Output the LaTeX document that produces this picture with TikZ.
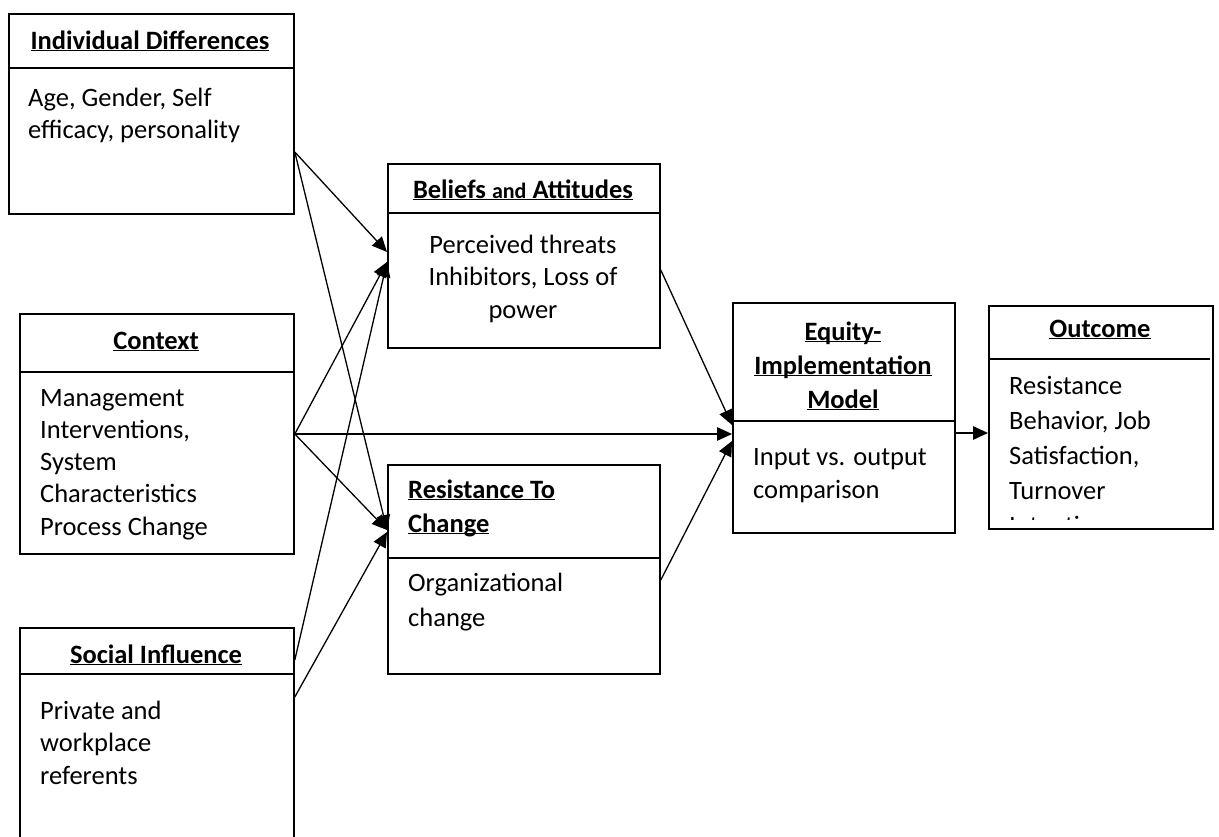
\documentclass[tikz,border=0pt]{standalone}
\usepackage{fontspec}
\setmainfont{Carlito}
\usetikzlibrary{arrows.meta,calc}
\newcommand\ul[1]{\underline{\raisebox{0pt}[\height][0pt]{#1}}}
\begin{document}
\begin{tikzpicture}[x=1pt,y=-1pt,
  box/.style={draw,line width=1.8pt,anchor=north west,inner sep=0pt},
  sep/.style={line width=1.8pt},
  conn/.style={line width=1.3pt,-{Triangle[length=15pt,width=13.5pt]}},
  txt/.style={anchor=base west,inner sep=0pt,align=left,font=\fontsize{26.5}{33}\selectfont},
  txtc/.style={anchor=base,inner sep=0pt,align=center,font=\fontsize{26.5}{32.5}\selectfont},
  ttl/.style={anchor=base,inner sep=0pt,align=center,font=\fontsize{26.5}{34}\selectfont\bfseries},
  ttll/.style={anchor=base west,inner sep=0pt,align=left,font=\fontsize{26.5}{34}\selectfont\bfseries}
]
\useasboundingbox (0,0) rectangle (1219,836);

% boxes
\node[box,minimum width=285pt,minimum height=200pt] (id) at (8,13) {};
\node[box,minimum width=274pt,minimum height=240pt] (ctx) at (19,313) {};
\node[box,minimum width=274pt,minimum height=240pt] (soc) at (19,627) {};
\node[box,minimum width=272pt,minimum height=184pt] (bel) at (387,163) {};
\node[box,minimum width=272pt,minimum height=209pt] (res) at (387,464) {};
\node[box,minimum width=222pt,minimum height=230pt] (eq) at (732,302) {};
\node[box,minimum width=224pt,minimum height=223pt] (out) at (988,305) {};

% separators
\draw[sep] (id.west |- 0,68) -- (id.east |- 0,68);
\draw[sep] (ctx.west |- 0,372) -- (ctx.east |- 0,372);
\draw[sep] (soc.west |- 0,674) -- (soc.east |- 0,674);
\draw[sep] (bel.west |- 0,213) -- (bel.east |- 0,213);
\draw[sep] (res.west |- 0,558) -- (res.east |- 0,558);
\draw[sep] (eq.west |- 0,421) -- (eq.east |- 0,421);
\draw[sep] (out.west |- 0,359) -- ($(out.east |- 0,359)+(-4,0)$);

% titles (anchor = baseline of the last line)
\node[ttl] (idT) at (150,49) {\ul{Individual Differences}};
\node[ttl] (ctxT) at (156,349) {\ul{Context}};
\node[ttl] (socT) at (156,663) {\ul{Social Influence}};
\node[ttl] (belT) at (523,198) {\ul{Beliefs {\fontsize{22}{34}\selectfont and} Attitudes}};
\node[ttll] (resT) at (408,532) {\ul{Resistance To}\\\ul{Change}};
\node[ttl] (eqT) at (843,408) {\ul{Equity-}\\\ul{Implementation}\\\ul{Model}};
\node[ttl] (outT) at (1100,337) {\ul{Outcome}};

% bodies
\node[txt,font=\fontsize{26.5}{32.5}\selectfont] (idB) at (28,138.5) {Age, Gender, Self\\efficacy, personality};
\node[txt,font=\fontsize{26.5}{32.25}\selectfont] (ctxB) at (40,535) {Management\\Interventions,\\System\\Characteristics\\Process Change};
\node[txt,font=\fontsize{26.5}{32.5}\selectfont] (socB) at (40,784) {Private and\\workplace\\referents};
\node[txtc] (belB) at (523,318) {Perceived threats\\Inhibitors, Loss of\\power};
\node[txt,font=\fontsize{26.5}{35}\selectfont] (resB) at (408,626) {Organizational\\change};
\node[txt] (eqB) at (753,498) {Input vs. output\\comparison};
\node[txt,font=\fontsize{26.5}{34.7}\selectfont] (outB) at (1009,499) {Resistance\\Behavior, Job\\Satisfaction,\\Turnover};
\begin{scope}
\clip (990,307) rectangle (1210,519);
\node[txt] (outC) at (1009,534) {Intention};
\end{scope}

% connectors
\draw[conn] (id.east |- 0,152) -- (bel.west |- 0,252);
\draw[conn] (id.east |- 0,152) -- (res.west |- 0,530);
\draw[conn] (ctx.east |- 0,434) -- (bel.west |- 0,262);
\draw[conn] (ctx.east |- 0,434) -- (eq.west |- 0,434);
\draw[conn] (ctx.east |- 0,434) -- (res.west |- 0,530);
\draw[conn] (soc.east |- 0,660) -- (bel.west |- 0,262);
\draw[conn] (soc.east |- 0,697) -- (res.west |- 0,532);
\draw[conn] (bel.east |- 0,270) -- (eq.west |- 0,425);
\draw[conn] (res.east |- 0,580) -- (eq.west |- 0,441);
\draw[conn] (eq.east |- 0,433) -- (out.west |- 0,433);
\end{tikzpicture}
\end{document}
